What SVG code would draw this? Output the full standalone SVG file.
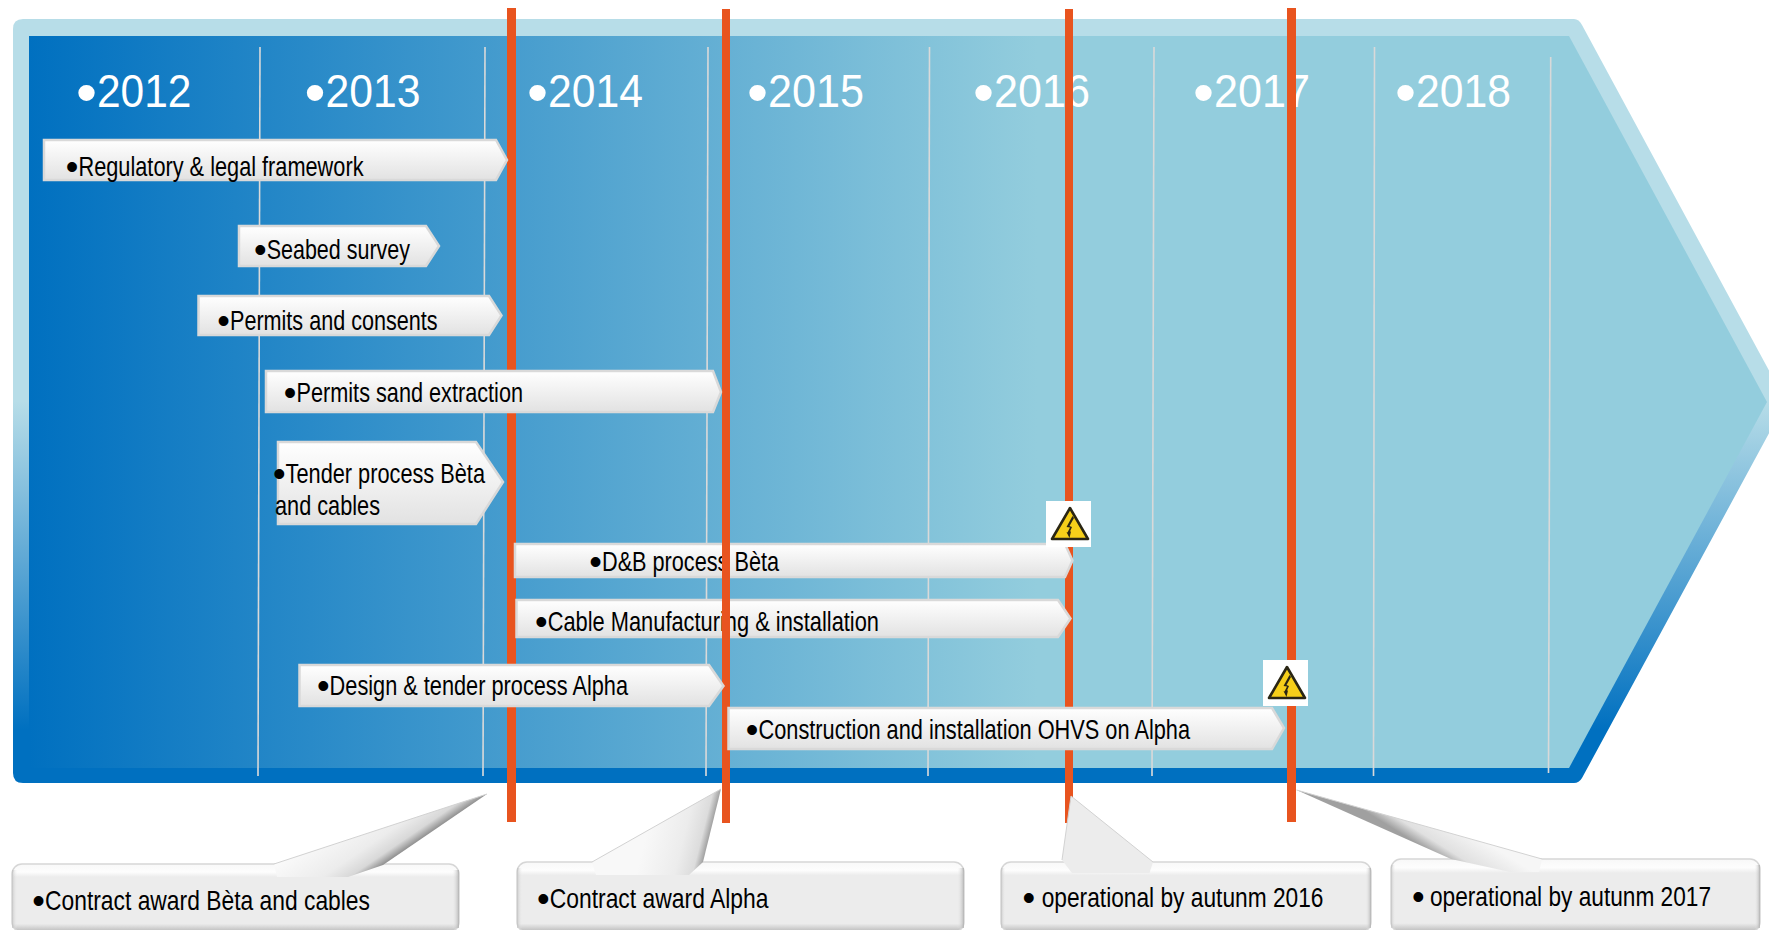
<svg xmlns="http://www.w3.org/2000/svg" width="1769" height="930" viewBox="0 0 1769 930">
<style>
text{font-family:"Liberation Sans",Arial,sans-serif}
.yr{font-size:47px;fill:#fff}
.lb{font-size:27.5px;fill:#000}
.by{font-size:60px}
.bl{font-size:36px}
.grid{stroke:#d9d9d9;stroke-width:1.6;fill:none}
.ms{fill:#e8541f}
.arrow{fill:url(#arrowFill);stroke:#d9d9d9;stroke-width:2.5}
.box{fill:url(#boxFill);stroke:#d6d6d6;stroke-width:1.5}
.edge{fill:url(#boxEdge)}
.rim{fill:none;stroke:#d2d2d2;stroke-width:1}
.sign{fill:#fff}
.tri{fill:#f6cf1a;stroke:#2a2614;stroke-width:2.6;stroke-linejoin:round}
.bolt{fill:#2a2614}
</style>
<defs>
<linearGradient id="outerFill" gradientUnits="userSpaceOnUse" x1="0" y1="19" x2="0" y2="783">
<stop offset="0.5" stop-color="#b7dde8"/><stop offset="0.93" stop-color="#0070c0"/>
</linearGradient>
<linearGradient id="innerFill" gradientUnits="userSpaceOnUse" x1="29" y1="0" x2="1767" y2="0">
<stop offset="0" stop-color="#0070c0"/><stop offset="0.58" stop-color="#93cddd"/>
</linearGradient>
<linearGradient id="arrowFill" x1="0" y1="0" x2="0" y2="1">
<stop offset="0" stop-color="#fff"/><stop offset="1" stop-color="#e2e2e2"/>
</linearGradient>
<linearGradient id="boxFill" x1="0" y1="0" x2="0" y2="1">
<stop offset="0" stop-color="#f8f8f8"/><stop offset="0.12" stop-color="#fdfdfd"/><stop offset="0.19" stop-color="#ececec"/><stop offset="0.88" stop-color="#ececec"/><stop offset="1" stop-color="#b8b8b8"/>
</linearGradient>
<linearGradient id="boxEdge" x1="0" y1="0" x2="1" y2="0">
<stop offset="0" stop-color="#bbb" stop-opacity="0.7"/><stop offset="0.012" stop-color="#ececec" stop-opacity="0"/><stop offset="0.985" stop-color="#ececec" stop-opacity="0"/><stop offset="1" stop-color="#aaa" stop-opacity="0.8"/>
</linearGradient>
<linearGradient id="ptrA" gradientUnits="userSpaceOnUse" x1="383" y1="865" x2="349" y2="815">
<stop offset="0" stop-color="#8f8f8f"/><stop offset="0.15" stop-color="#d8d8d8"/><stop offset="0.4" stop-color="#ececec"/><stop offset="1" stop-color="#fafafa"/>
</linearGradient>
<linearGradient id="ptrB" gradientUnits="userSpaceOnUse" x1="703" y1="862" x2="643" y2="847">
<stop offset="0" stop-color="#a0a0a0"/><stop offset="0.12" stop-color="#dcdcdc"/><stop offset="0.4" stop-color="#ececec"/><stop offset="1" stop-color="#f8f8f8"/>
</linearGradient>
<linearGradient id="ptrD" gradientUnits="userSpaceOnUse" x1="1440" y1="858" x2="1460" y2="826">
<stop offset="0" stop-color="#a0a0a0"/><stop offset="0.3" stop-color="#e0e0e0"/><stop offset="1" stop-color="#f6f6f6"/>
</linearGradient>
<g id="warnGlyph">
<rect class="sign" x="1046" y="501" width="45" height="46"/>
<path class="tri" d="M1070 508L1088 539H1052Z"/>
<path class="bolt" d="M1072.500 516L1066.500 527L1070 527.500L1067.500 532.500L1066.500 532L1069.500 538L1071 531.500L1070 531.500L1072 527L1069.500 526L1074 518Z"/>
</g>
</defs>

<g id="timeline-band">
<path d="M13 29Q13 19 23 19H1574Q1579 19 1582 25L1786 402L1582 778Q1579 783 1574 783H23Q13 783 13 773Z" fill="url(#outerFill)"/>
<path d="M29 36H1569L1767 402L1569 768H29Z" fill="url(#innerFill)"/>
</g>

<g id="year-grid">
<line class="grid" x1="260" y1="47" x2="258" y2="776"/>
<line class="grid" x1="485" y1="47" x2="483" y2="776"/>
<line class="grid" x1="708" y1="47" x2="706" y2="776"/>
<line class="grid" x1="929.5" y1="47" x2="928" y2="776"/>
<line class="grid" x1="1154" y1="47" x2="1152" y2="776"/>
<line class="grid" x1="1374.5" y1="47" x2="1373.5" y2="776"/>
<line class="grid" x1="1550.7" y1="57" x2="1548.5" y2="773"/>
</g>

<g id="years">
<text class="yr" y="107"><tspan class="by" x="76" dy="5.500">•</tspan><tspan x="97" dy="-5.500" textLength="94.500" lengthAdjust="spacingAndGlyphs">2012</tspan></text>
<text class="yr" y="107"><tspan class="by" x="304.500" dy="5.500">•</tspan><tspan x="325.500" dy="-5.500" textLength="95" lengthAdjust="spacingAndGlyphs">2013</tspan></text>
<text class="yr" y="107"><tspan class="by" x="527" dy="5.500">•</tspan><tspan x="548" dy="-5.500" textLength="95" lengthAdjust="spacingAndGlyphs">2014</tspan></text>
<text class="yr" y="107"><tspan class="by" x="747" dy="5.500">•</tspan><tspan x="768" dy="-5.500" textLength="96" lengthAdjust="spacingAndGlyphs">2015</tspan></text>
<text class="yr" y="107"><tspan class="by" x="973" dy="5.500">•</tspan><tspan x="994" dy="-5.500" textLength="96" lengthAdjust="spacingAndGlyphs">2016</tspan></text>
<text class="yr" y="107"><tspan class="by" x="1193" dy="5.500">•</tspan><tspan x="1214" dy="-5.500" textLength="96" lengthAdjust="spacingAndGlyphs">2017</tspan></text>
<text class="yr" y="107"><tspan class="by" x="1395" dy="5.500">•</tspan><tspan x="1416" dy="-5.500" textLength="95" lengthAdjust="spacingAndGlyphs">2018</tspan></text>
</g>

<g id="connectors">
<rect class="ms" x="507" y="8" width="9" height="814"/>
<rect class="ms" x="1065" y="9" width="8" height="814"/>
<rect class="ms" x="1287" y="8" width="9" height="814"/>
</g>

<g id="db-process-beta">
<path class="arrow" d="M515 544H1065L1072.500 560.500L1065 577H515Z"/>
<text class="lb" y="571"><tspan class="bl" x="589.300" dy="3">•</tspan><tspan x="602" dy="-3" textLength="177" lengthAdjust="spacingAndGlyphs">D&amp;B process Bèta</tspan></text>
</g>
<g id="cable-manufacturing">
<path class="arrow" d="M516.500 600H1058L1070.500 618.500L1058 637H516.500Z"/>
<text class="lb" y="631"><tspan class="bl" x="535" dy="3">•</tspan><tspan x="547.700" dy="-3" textLength="331.300" lengthAdjust="spacingAndGlyphs">Cable Manufacturing &amp; installation</tspan></text>
</g>

<g id="connector-alpha">
<rect class="ms" x="722" y="9" width="8" height="814"/>
</g>

<g id="regulatory-framework">
<path class="arrow" d="M44 140H496L507 160L496 180H44Z"/>
<text class="lb" y="176"><tspan class="bl" x="65.800" dy="3">•</tspan><tspan x="78.500" dy="-3" textLength="285" lengthAdjust="spacingAndGlyphs">Regulatory &amp; legal framework</tspan></text>
</g>
<g id="seabed-survey">
<path class="arrow" d="M239 226H426L439 246L426 266H239Z"/>
<text class="lb" y="259"><tspan class="bl" x="254" dy="3">•</tspan><tspan x="266.700" dy="-3" textLength="143.300" lengthAdjust="spacingAndGlyphs">Seabed survey</tspan></text>
</g>
<g id="permits-consents">
<path class="arrow" d="M198.500 296H489L501.500 315.500L489 335H198.500Z"/>
<text class="lb" y="330"><tspan class="bl" x="217.300" dy="3">•</tspan><tspan x="230" dy="-3" textLength="207.500" lengthAdjust="spacingAndGlyphs">Permits and consents</tspan></text>
</g>
<g id="permits-sand">
<path class="arrow" d="M266 371H713L721 392L713 412H266Z"/>
<text class="lb" y="402"><tspan class="bl" x="283.800" dy="3">•</tspan><tspan x="296.500" dy="-3" textLength="226.500" lengthAdjust="spacingAndGlyphs">Permits sand extraction</tspan></text>
</g>
<g id="tender-beta">
<path class="arrow" d="M278 442H476L503 482L476 524H278Z"/>
<text class="lb" y="483"><tspan class="bl" x="272.900" dy="3">•</tspan><tspan x="285.600" dy="-3" textLength="199.400" lengthAdjust="spacingAndGlyphs">Tender process Bèta</tspan></text>
<text class="lb" x="275" y="515" textLength="105" lengthAdjust="spacingAndGlyphs">and cables</text>
</g>
<g id="design-tender-alpha">
<path class="arrow" d="M299.500 665H709L723.500 686L709 706H299.500Z"/>
<text class="lb" y="695"><tspan class="bl" x="316.900" dy="3">•</tspan><tspan x="329.600" dy="-3" textLength="298.400" lengthAdjust="spacingAndGlyphs">Design &amp; tender process Alpha</tspan></text>
</g>
<g id="construction-ohvs">
<path class="arrow" d="M728.500 708H1272L1284 728L1272 749H728.500Z"/>
<text class="lb" y="738.500"><tspan class="bl" x="745.800" dy="3">•</tspan><tspan x="758.500" dy="-3" textLength="431.500" lengthAdjust="spacingAndGlyphs">Construction and installation OHVS on Alpha</tspan></text>
</g>

<g id="warning-2016"><use href="#warnGlyph"/></g>
<g id="warning-2017"><use href="#warnGlyph" x="217" y="159"/></g>

<g id="callout-contract-beta">
<rect class="box" x="12" y="864" width="447" height="68" rx="10"/>
<rect class="edge" x="12" y="870" width="447" height="58"/>
<path d="M274 864L277 877H348L383 865L487 794Z" fill="url(#ptrA)"/>
<path class="rim" d="M274 864L487 794"/>
<text class="lb" y="910"><tspan class="bl" x="32.300" dy="3">•</tspan><tspan x="45" dy="-3" textLength="325" lengthAdjust="spacingAndGlyphs">Contract award Bèta and cables</tspan></text>
</g>
<g id="callout-contract-alpha">
<rect class="box" x="517" y="862" width="447" height="70" rx="10"/>
<rect class="edge" x="517" y="868" width="447" height="60"/>
<path d="M592 862L596 875H689L703 862L721 789Z" fill="url(#ptrB)"/>
<path class="rim" d="M592 862L721 789"/>
<text class="lb" y="908"><tspan class="bl" x="537" dy="3">•</tspan><tspan x="549.700" dy="-3" textLength="218.800" lengthAdjust="spacingAndGlyphs">Contract award Alpha</tspan></text>
</g>
<g id="callout-operational-2016">
<rect class="box" x="1001" y="862" width="370" height="70" rx="10"/>
<rect class="edge" x="1001" y="868" width="370" height="60"/>
<path d="M1062 860L1072 873H1149.500L1153 862L1071 796Z" fill="#ececec"/>
<path class="rim" d="M1062 860L1071 796L1153 862"/>
<text class="lb" y="907"><tspan class="bl" x="1022.500" dy="3">•</tspan> <tspan x="1041.700" dy="-3" textLength="281.800" lengthAdjust="spacingAndGlyphs">operational by autunm 2016</tspan></text>
</g>
<g id="callout-operational-2017">
<rect class="box" x="1391" y="859" width="369" height="73" rx="10"/>
<rect class="edge" x="1391" y="865" width="369" height="63"/>
<path d="M1451 859L1510 872H1539L1542 859L1296.500 790Z" fill="url(#ptrD)"/>
<path class="rim" d="M1296.500 790L1542 859"/>
<text class="lb" y="906"><tspan class="bl" x="1412" dy="3">•</tspan> <tspan x="1430" dy="-3" textLength="281" lengthAdjust="spacingAndGlyphs">operational by autunm 2017</tspan></text>
</g>
</svg>
